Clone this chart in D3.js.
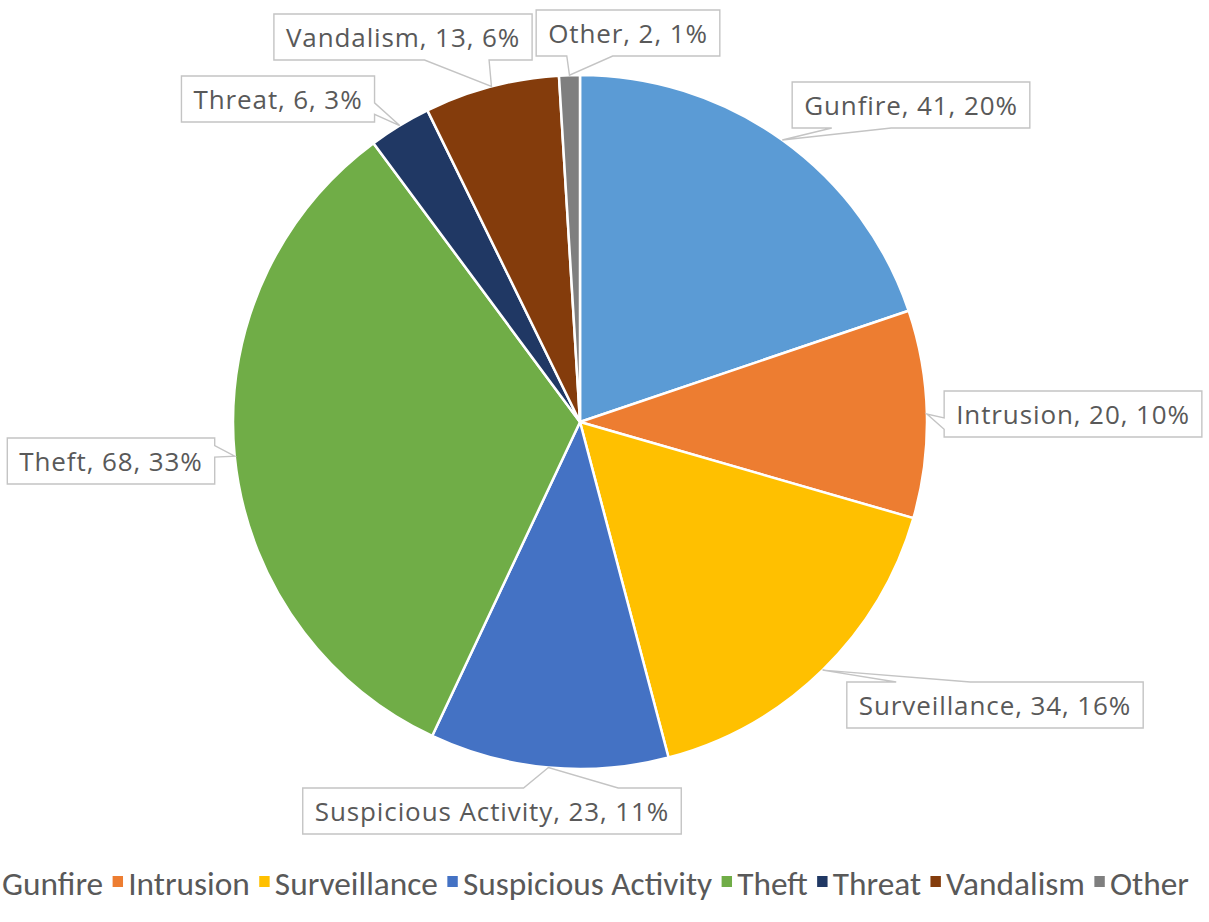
<!DOCTYPE html>
<html><head><meta charset="utf-8">
<script src="https://cdn.jsdelivr.net/npm/d3@7"></script>
<style>body{margin:0;background:#fff}</style>
</head><body>
<svg id="chart" width="1209" height="922"></svg>
<script>
const categories = ["Gunfire","Intrusion","Surveillance","Suspicious Activity","Theft","Threat","Vandalism","Other"];
const values = [41,20,34,23,68,6,13,2];
const colors = ["#5B9BD5","#ED7D31","#FFC000","#4472C4","#70AD47","#203864","#843C0C","#7F7F7F"];
// layout: label box centres
const labelCenters = [[911,105],[1073,414],[995,705],[492,811],[111,461],[278,99],[403,37],[628,33]];

const W = 1209, H = 922;
const cx = 580, cy = 422, R = 347;
const LABEL_FONT = "'Open Sans', sans-serif";
const LEGEND_FONT = "Carlito, Calibri, Lato, sans-serif";
const TEXT = "#595959";

const svg = d3.select("#chart");
const data = categories.map((c,i)=>({cat:c, value:values[i], color:colors[i], center:labelCenters[i]}));
const total = d3.sum(values);
const pct = d3.format(".0%");

const pie = d3.pie().sort(null).value(d=>d.value);
const arcs = pie(data);
const arc = d3.arc().innerRadius(0).outerRadius(R);
const edge = d3.arc().innerRadius(R).outerRadius(R);

const gPie = svg.append("g").attr("transform",`translate(${cx},${cy})`);
gPie.selectAll("path").data(arcs).join("path")
  .attr("d",arc).attr("fill",d=>d.data.color)
  .attr("stroke","#fff").attr("stroke-width",2.5).attr("stroke-linejoin","round");

function callout(bx,by,w,h,tx,ty){
  const l=bx-w/2,r=bx+w/2,t=by-h/2,b=by+h/2;
  const dx=tx-bx, dy=ty-by, dq=dx*h/w;
  let p;
  if (Math.abs(dy)>Math.abs(dq)){
    const x1=l+w*(dx>0?7:2)/12, x2=l+w*(dx>0?10:5)/12;
    if (dy<0) p=[[l,t],[x1,t],[tx,ty],[x2,t],[r,t],[r,b],[l,b]];
    else p=[[l,t],[r,t],[r,b],[x2,b],[tx,ty],[x1,b],[l,b]];
  } else {
    const y1=t+h*(dy>0?7:2)/12, y2=t+h*(dy>0?10:5)/12;
    if (dx>0) p=[[l,t],[r,t],[r,y1],[tx,ty],[r,y2],[r,b],[l,b]];
    else p=[[l,t],[r,t],[r,b],[l,b],[l,y2],[tx,ty],[l,y1]];
  }
  return "M"+p.map(q=>q.join(",")).join("L")+"Z";
}

const gLab = svg.append("g");
arcs.forEach(a=>{
  const d=a.data;
  const [bx,by]=d.center;
  const tip=edge.centroid(a);
  const tx=cx+tip[0], ty=cy+tip[1];
  const g=gLab.append("g");
  const path=g.append("path").attr("fill","#fff").attr("stroke","#c4c4c4").attr("stroke-width",1.4);
  const t=g.append("text").attr("x",bx).attr("y",by).attr("text-anchor","middle")
    .attr("dominant-baseline","central").attr("font-family",LABEL_FONT).attr("font-size",26)
    .attr("letter-spacing",0.9)
    .attr("fill",TEXT).text(`${d.cat}, ${d.value}, ${pct(d.value/total)}`);
  const tw=t.node().getComputedTextLength();
  path.attr("d",callout(bx,by,tw+24,46,tx,ty));
});

// legend
const gLeg = svg.append("g");
const inner = gLeg.append("g");
let pos=0; const starts=[], ends=[];
data.forEach((d,i)=>{
  inner.append("rect").attr("x",pos).attr("y",-19).attr("width",10).attr("height",11).attr("fill",d.color);
  const tx=pos+15;
  const t=inner.append("text").attr("x",tx).attr("y",0).attr("font-family",LEGEND_FONT).attr("font-size",32)
    .attr("fill",TEXT).text(d.cat);
  const w=t.node().getComputedTextLength();
  starts.push(tx); ends.push(tx+w);
  pos=tx+w+9;
});
const s0=starts[0], s1=ends[6];
const sx=(1085-2)/(s1-s0);
inner.attr("transform",`translate(${2-s0*sx},895) scale(${sx},1)`);
</script>
</body></html>
